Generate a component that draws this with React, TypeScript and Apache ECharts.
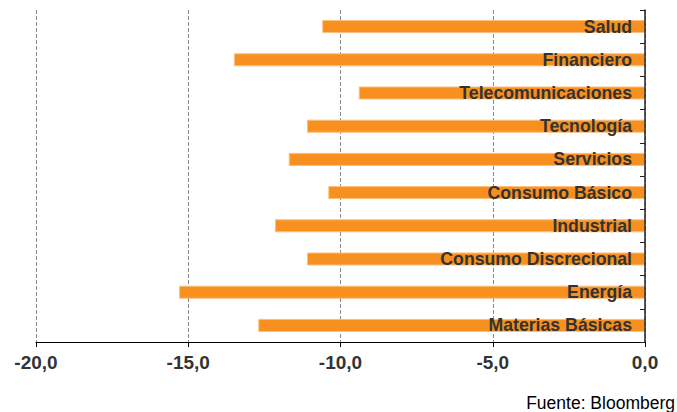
import React, { useEffect, useRef } from "react";
import * as echarts from "echarts";

const categories = [
  "Salud",
  "Financiero",
  "Telecomunicaciones",
  "Tecnología",
  "Servicios",
  "Consumo Básico",
  "Industrial",
  "Consumo Discrecional",
  "Energía",
  "Materias Básicas",
];
const values = [-10.6, -13.5, -9.4, -11.1, -11.7, -10.4, -12.15, -11.1, -15.3, -12.7];
const xMin = -20;
const xMax = 0;
const xStep = 5;
const sourceText = "Fuente: Bloomberg";

const FONT = "'Liberation Sans', Arial, sans-serif";

export default function App() {
  const ref = useRef<HTMLDivElement>(null);
  useEffect(() => {
    if (!ref.current) return;
    const chart = echarts.init(ref.current, null, { renderer: "svg" });
    chart.setOption({
      animation: false,
      backgroundColor: "#ffffff",
      textStyle: { fontFamily: FONT },
      grid: { left: 36, right: 32, top: 10, bottom: 70, outerBoundsMode: "none", containLabel: false },
      xAxis: {
        type: "value",
        min: xMin,
        max: xMax,
        interval: xStep,
        axisLine: { show: true, lineStyle: { color: "#000", width: 1 } },
        axisTick: { show: true, length: 5, lineStyle: { color: "#000" } },
        axisLabel: {
          margin: 11,
          fontSize: 19,
          fontWeight: "bold",
          color: "#333",
          fontFamily: FONT,
          formatter: (v: number) => v.toFixed(1).replace(".", ","),
        },
        splitLine: { show: true, lineStyle: { color: "#8a8a8a", type: [4, 2], width: 1 } },
      },
      yAxis: {
        type: "category",
        data: categories,
        inverse: true,
        position: "right",
        z: 3,
        axisLine: { show: true, lineStyle: { color: "#222", width: 1.5 } },
        axisTick: { show: true, inside: true, length: 5, lineStyle: { color: "#222" } },
        axisLabel: {
          inside: true,
          margin: 13,
          fontSize: 17.7,
          fontWeight: "bold",
          color: "#333",
          fontFamily: FONT,
        },
        splitLine: { show: false },
      },
      series: [
        {
          type: "bar",
          data: values,
          barWidth: 13,
          itemStyle: { color: "#F7901E", borderColor: "#FBBE7E", borderWidth: 1 },
        },
      ],
      graphic: [
        {
          type: "text",
          right: 2,
          top: 394,
          style: { text: sourceText, fontSize: 17.5, fontFamily: FONT, fill: "#000" },
        },
      ],
    });
    return () => chart.dispose();
  }, []);
  return (
    <div
      ref={ref}
      style={{ position: "absolute", left: 0, top: 0, width: 677, height: 412 }}
    />
  );
}
